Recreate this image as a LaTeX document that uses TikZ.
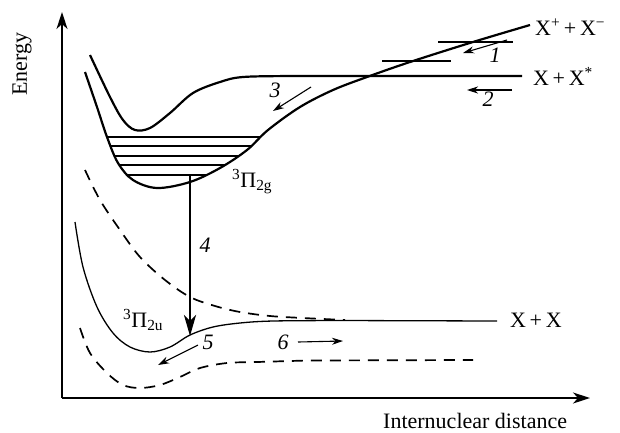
\documentclass[tikz,border=0pt]{standalone}
\usepackage{fontspec}
\setmainfont{Liberation Serif}
\usetikzlibrary{arrows.meta}
\begin{document}
\begin{tikzpicture}[x=1pt,y=-1pt,
  curvethick/.style={line width=2.2pt, line join=round},
  curvethin/.style={line width=1.3pt},
  dashcurve/.style={line width=1.7pt, dash pattern=on 11pt off 8pt},
  level/.style={line width=1.4pt},
  axis/.style={line width=1.6pt, -{Stealth[length=17pt,width=11pt,inset=5pt]}},
  smallarrow/.style={line width=1.1pt, -{Stealth[length=11pt,width=7pt,inset=3.5pt]}},
  lbl/.style={font=\fontsize{22}{26}\selectfont, inner sep=0pt},
  num/.style={font=\fontsize{22}{26}\selectfont\itshape, inner sep=0pt}
]
\useasboundingbox (0,0) rectangle (620,432);
% axes
\coordinate (O) at (62,398);
\coordinate (ytop) at (62,12);
\coordinate (xend) at (590,398);
\draw[axis] (O) -- (ytop);
\draw[axis] (O) -- (xend);
\node[lbl, rotate=90] (energy) at (22,64) {Energy};
\node[lbl, anchor=base west] (rlabel) at (383,428) {Internuclear distance};

% upper curve X + X*
\draw[curvethick] plot[smooth, tension=0.55] coordinates {(90,55) (110,97) (123,120) (135,130) (150,128) (170,113) (193,93) (220,82) (243,77) (293,76) (340,76)} -- (522,76);

% inner curve 3Pi2g and ionic
\draw[curvethick] plot[smooth, tension=0.55] coordinates {(85,72) (97,107) (107,137) (118,163) (133,180) (157,188) (190,182) (220,168) (247,150) (268,130) (300,107) (333,90) (367,77) (410,62) (473,42) (530,25)};

% vibrational levels
\begin{scope}
\clip plot[smooth, tension=0.55] coordinates {(85,72) (97,107) (107,137) (118,163) (133,180) (157,188) (190,182) (220,168) (247,150) (268,130) (300,107) (333,90) (367,77) (410,62) (473,42) (530,25)} -- (85,25) -- cycle;
\foreach \yy in {137,146,156,165,175} {
  \draw[level] (80,\yy) -- (320,\yy);
}
\end{scope}

% short levels near top
\draw[level] (438,42) -- (513,42);
\draw[level] (382,61) -- (451,61);

% dashed repulsive
\draw[dashcurve] plot[smooth, tension=0.55] coordinates {(85,170) (100,200) (120,230) (140,257) (165,280) (190,297) (215,306) (240,312) (270,316) (303,318) (345,320)};

% 3Pi2u solid
\draw[curvethin] plot[smooth, tension=0.55] coordinates {(75,222) (83,267) (97,307) (113,333) (130,347) (150,352) (170,347) (190,335) (213,327) (240,323) (273,321) (340,320.5)} -- (497,321);

% dashed lower
\draw[dashcurve] plot[smooth, tension=0.55] coordinates {(80,328) (90,353) (107,373) (123,385) (140,388) (160,385) (180,377) (200,368) (227,363) (257,362) (307,360.5)} -- (473,360);

% arrow 4
\coordinate (a4s) at (190,176);
\coordinate (a4e) at (190,336);
\draw[line width=2.8pt, -{Stealth[length=21pt,width=12pt,inset=6pt]}] (a4s) -- (a4e);

% small arrows
\coordinate (a1s) at (507,40); \coordinate (a1e) at (463,53);
\coordinate (a2s) at (512,90); \coordinate (a2e) at (467,90);
\coordinate (a3s) at (311,87); \coordinate (a3e) at (273,111);
\coordinate (a5s) at (198,345); \coordinate (a5e) at (158,365);
\coordinate (a6s) at (298,342); \coordinate (a6e) at (343,341);
\draw[smallarrow] (a1s) -- (a1e);
\draw[smallarrow] (a2s) -- (a2e);
\draw[smallarrow] (a3s) -- (a3e);
\draw[smallarrow] (a5s) -- (a5e);
\draw[smallarrow] (a6s) -- (a6e);

% number labels
\node[num] (n1) at (495,55) {1};
\node[num] (n2) at (488,99) {2};
\node[num] (n3) at (275,90) {3};
\node[num] (n4) at (205,245) {4};
\node[num] (n5) at (208,342) {5};
\node[num] (n6) at (283,342) {6};

% state labels
\node[lbl, anchor=base west] (ion) at (535,35) {X\textsuperscript{+}\,+\,X\textsuperscript{−}};
\node[lbl, anchor=base west] (exc) at (533,85) {X\,+\,X\textsuperscript{*}};
\node[lbl, anchor=base west] (gnd) at (510,327) {X\,+\,X};
\node[lbl, anchor=base west] (pig) at (232,187) {\textsuperscript{3}Π\textsubscript{2g}};
\node[lbl, anchor=base west] (piu) at (123,327) {\textsuperscript{3}Π\textsubscript{2u}};
\end{tikzpicture}
\end{document}
